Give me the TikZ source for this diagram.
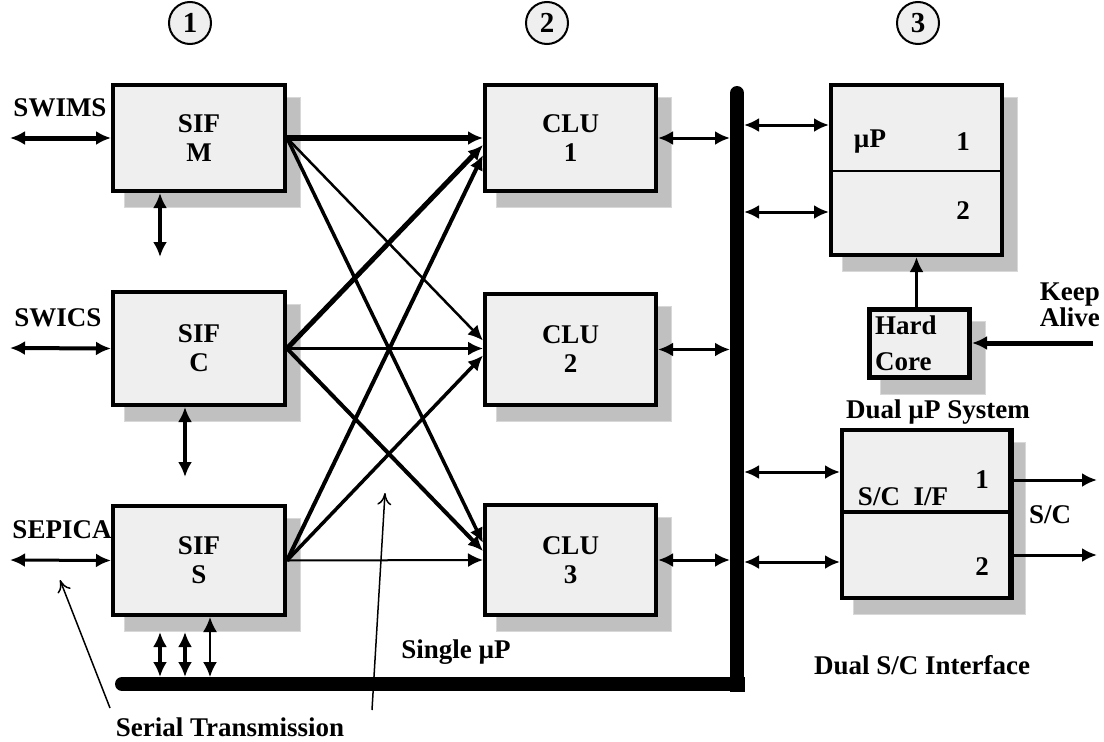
\documentclass[tikz,border=0pt]{standalone}
\usepackage{fontspec}
\setmainfont{Liberation Serif}
\usetikzlibrary{arrows.meta,backgrounds,calc}
\definecolor{boxfill}{HTML}{EFEFEF}
\definecolor{shadowfill}{HTML}{C0C0C0}
\definecolor{shadowline}{HTML}{D8D8D8}
\tikzset{
 txt/.style={font=\bfseries\fontsize{27}{29}\selectfont},
 blk/.style={draw, line width=4pt, fill=boxfill, rectangle, inner sep=0pt, align=center, txt},
 lbl/.style={inner sep=0pt, txt},
 num/.style={circle, draw, line width=2pt, fill=boxfill, minimum size=42pt, inner sep=0pt, font=\bfseries\fontsize{29}{29}\selectfont},
 tip/.style={-{Latex[length=15pt,width=14pt]}},
 dtip/.style={{Latex[length=15pt,width=14pt]}-{Latex[length=15pt,width=14pt]}},
 opentip/.style={-{To[length=12pt,width=14pt]}, line width=1.5pt},
 busline/.style={line width=14pt, line cap=round},
 shade/.style={fill=shadowfill, draw=shadowline, line width=1pt},
}
\begin{document}
\begin{tikzpicture}[x=1pt,y=-1pt]
\useasboundingbox (0,0) rectangle (1104,742);

% numbered circles
\node[num] (c1) at (190,23) {1};
\node[num] (c2) at (547,23) {2};
\node[num] (c3) at (918,23) {3};

% bus
\coordinate (busL) at (122,684);
\coordinate (busC) at (737,684);
\coordinate (busT) at (737,93);
\coordinate (busW) at (730,0);
\coordinate (busE) at (744,0);
\coordinate (busTop) at (0,677);
\draw[busline] (busL) -- (busC) -- (busT);
\fill (730,677) rectangle (745,692);

% blocks
\node[blk, minimum width=172pt, minimum height=106pt] (sifm) at (199,138) {SIF\\M};
\node[blk, minimum width=172pt, minimum height=113pt] (sifc) at (199,348.5) {SIF\\C};
\node[blk, minimum width=172pt, minimum height=109pt] (sifs) at (199,560.5) {SIF\\S};
\node[blk, minimum width=171pt, minimum height=106pt] (clu1) at (570.5,138) {CLU\\1};
\node[blk, minimum width=171pt, minimum height=111pt] (clu2) at (570.5,349.5) {CLU\\2};
\node[blk, minimum width=171pt, minimum height=110pt] (clu3) at (570.5,560) {CLU\\3};
\node[blk, minimum width=171pt, minimum height=170pt] (up) at (916.5,170) {};
\node[blk, line width=5pt, minimum width=100pt, minimum height=68pt] (hc) at (919.5,343.5) {};
\node[blk, minimum width=168pt, minimum height=168pt] (scif) at (926,514) {};

% shadows
\begin{scope}[on background layer]
\foreach \n in {sifm,sifc,sifs,clu1,clu2,clu3,up,hc,scif}
  \path[shade] ($(\n.south west)+(13,14)$) rectangle ($(\n.north east)+(13,14)$);
\end{scope}

% dividers
\coordinate (y171) at (0,171);
\coordinate (y512) at (0,512);
\draw[line width=2pt] (up.west |- y171) -- (up.east |- y171);
\draw[line width=4pt] (scif.west |- y512) -- (scif.east |- y512);
\draw[line width=6pt] ($(scif.north east)+(-1,0)$) -- ($(scif.south east)+(-1,0)$);

% texts inside the right boxes
\node[lbl] (tup) at (870,142) {µP};
\node[lbl] (tup1) at (963,142) {1};
\node[lbl] (tup2) at (963,211) {2};
\node[lbl, anchor=west] (thard) at (875,325) {Hard};
\node[lbl, anchor=west] (tcore) at (875,362) {Core};
\node[lbl] (tsc1) at (982,480) {1};
\node[lbl] (tscif) at (903,497) {S/C\hspace{0.5em}I/F};
\node[lbl] (tsc2) at (982,567) {2};

% outside labels
\node[lbl] (lswims) at (60,108) {SWIMS};
\node[lbl] (lswics) at (58,318) {SWICS};
\node[lbl] (lsepica) at (62,530) {SEPICA};
\node[lbl, align=right, anchor=east, font=\bfseries\fontsize{27}{26}\selectfont] (lkeep) at (1100,305) {Keep\\Alive};
\node[lbl] (ldual) at (938,412) {Dual µP System};
\node[lbl] (lsc) at (1050,515) {S/C};
\node[lbl] (ldsc) at (922,665) {Dual S/C Interface};
\node[lbl] (lsingle) at (456,652) {Single µP};
\node[lbl] (lserial) at (230,727) {Serial Transmission};

% left inputs
\coordinate (swimsL) at (10,138);
\coordinate (swicsL) at (10,348);
\coordinate (sepicaL) at (10,560);
\draw[dtip, line width=5pt] (swimsL) -- (sifm.west);
\draw[dtip, line width=4pt] (swicsL) -- (sifc.west);
\draw[dtip, line width=3pt] (sepicaL) -- (sifs.west);

% vertical arrows below SIF boxes
\coordinate (mdn) at (160,257);
\coordinate (cdn) at (185,477);
\draw[dtip, line width=4pt] (sifm.south -| mdn) -- (mdn);
\draw[dtip, line width=4pt] (sifc.south -| cdn) -- (cdn);
\coordinate (s1) at (160,632);
\coordinate (s2) at (185,632);
\coordinate (s3) at (210,0);
\draw[dtip, line width=4pt] (s1) -- (s1 |- busTop);
\draw[dtip, line width=4pt] (s2) -- (s2 |- busTop);
\draw[dtip, line width=2pt] (sifs.south -| s3) -- (s3 |- busTop);

% crossbar
\draw[tip, line width=6pt] (sifm.east) -- (clu1.west);
\draw[tip, line width=2.5pt] (sifm.east) -- ($(clu2.west)+(0,-9)$);
\draw[tip, line width=3.5pt] (sifm.east) -- ($(clu3.west)+(0,-17)$);
\draw[tip, line width=5pt] (sifc.east) -- ($(clu1.west)+(0,7)$);
\draw[tip, line width=2.5pt] (sifc.east) -- ($(clu2.west)+(0,-1)$);
\draw[tip, line width=4pt] (sifc.east) -- ($(clu3.west)+(0,-9)$);
\draw[tip, line width=4pt] (sifs.east) -- ($(clu1.west)+(0,17)$);
\draw[tip, line width=3.5pt] (sifs.east) -- ($(clu2.west)+(0,6)$);
\draw[tip, line width=2pt] (sifs.east) -- (clu3.west);

% CLU to bus
\draw[dtip, line width=3pt] (clu1.east) -- (clu1.east -| busW);
\draw[dtip, line width=3pt] (clu2.east) -- (clu2.east -| busW);
\draw[dtip, line width=3pt] (clu3.east) -- (clu3.east -| busW);

% bus to right boxes
\coordinate (y125) at (0,125);
\coordinate (y212) at (0,212);
\coordinate (y472) at (0,472);
\coordinate (y562) at (0,562);
\draw[dtip, line width=3pt] (busE |- y125) -- (up.west |- y125);
\draw[dtip, line width=3pt] (busE |- y212) -- (up.west |- y212);
\draw[dtip, line width=3pt] (busE |- y472) -- (scif.west |- y472);
\draw[dtip, line width=3pt] (busE |- y562) -- (scif.west |- y562);

% hard core & keep alive
\draw[tip, line width=3pt] (hc.north -| up.south) -- (up.south);
\coordinate (keepR) at (1093,343);
\draw[tip, line width=5pt] (keepR) -- (hc.east |- keepR);

% S/C outputs
\coordinate (sco1) at (1097,480);
\coordinate (sco2) at (1097,555);
\draw[tip, line width=3pt] (scif.east |- sco1) -- (sco1);
\draw[tip, line width=3pt] (scif.east |- sco2) -- (sco2);

% serial transmission pointers
\coordinate (st1) at (110,708);
\coordinate (st1h) at (60,580);
\coordinate (st2) at (372,710);
\coordinate (st2h) at (385,493);
\draw[opentip] (st1) -- (st1h);
\draw[opentip] (st2) -- (st2h);
\end{tikzpicture}
\end{document}
